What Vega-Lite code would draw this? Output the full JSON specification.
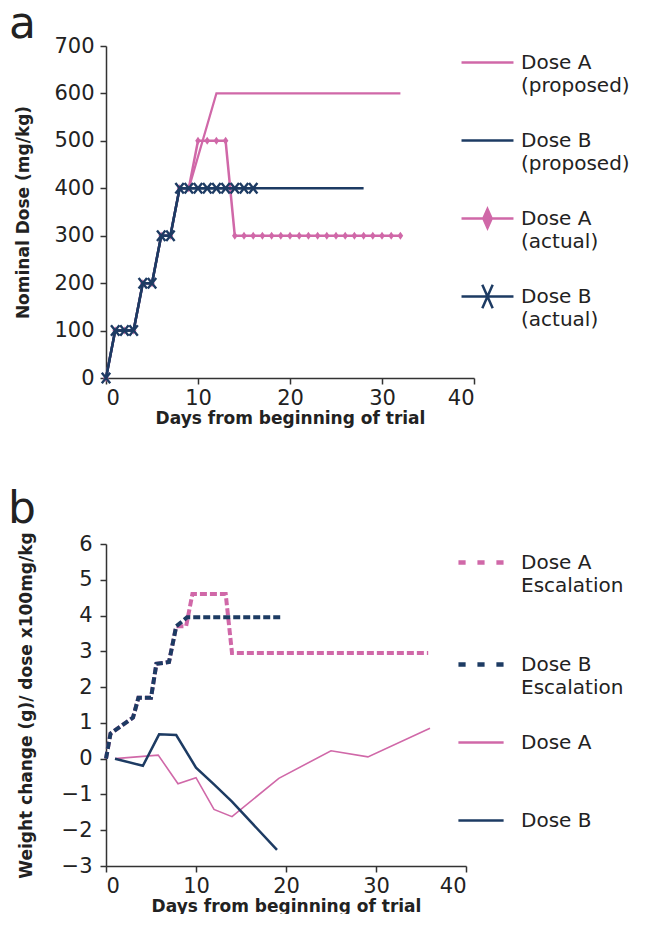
{
  "$schema": "https://vega.github.io/schema/vega-lite/v6.json",
  "background": "white",
  "padding": {"left": 8, "top": 3, "right": 0, "bottom": 0},
  "config": {
    "font": "DejaVu Sans",
    "view": {"stroke": null},
    "axis": {"grid": false, "domainColor": "#333", "domainWidth": 1.5, "tickColor": "#333", "tickWidth": 1.5, "tickSize": 6,
      "labelFont": "DejaVu Sans", "labelFontSize": 21, "labelColor": "#222",
      "titleFont": "DejaVu Sans", "titleFontWeight": "bold", "titleFontSize": 17, "titleColor": "#222"},
    "title": {"font": "DejaVu Sans", "fontSize": 44, "fontWeight": "normal", "color": "#222", "anchor": "start", "frame": "bounds"}
  },
  "datasets": {
    "dose": [
      {"series": "Dose A (proposed)", "day": 0, "value": 0},
      {"series": "Dose A (proposed)", "day": 1, "value": 100},
      {"series": "Dose A (proposed)", "day": 3, "value": 100},
      {"series": "Dose A (proposed)", "day": 4, "value": 200},
      {"series": "Dose A (proposed)", "day": 5, "value": 200},
      {"series": "Dose A (proposed)", "day": 6, "value": 300},
      {"series": "Dose A (proposed)", "day": 7, "value": 300},
      {"series": "Dose A (proposed)", "day": 8, "value": 400},
      {"series": "Dose A (proposed)", "day": 9, "value": 400},
      {"series": "Dose A (proposed)", "day": 12, "value": 600},
      {"series": "Dose A (proposed)", "day": 32, "value": 600},
      {"series": "Dose B (proposed)", "day": 0, "value": 0},
      {"series": "Dose B (proposed)", "day": 1, "value": 100},
      {"series": "Dose B (proposed)", "day": 3, "value": 100},
      {"series": "Dose B (proposed)", "day": 4, "value": 200},
      {"series": "Dose B (proposed)", "day": 5, "value": 200},
      {"series": "Dose B (proposed)", "day": 6, "value": 300},
      {"series": "Dose B (proposed)", "day": 7, "value": 300},
      {"series": "Dose B (proposed)", "day": 8, "value": 400},
      {"series": "Dose B (proposed)", "day": 28, "value": 400},
      {"series": "Dose A (actual)", "day": 0, "value": 0},
      {"series": "Dose A (actual)", "day": 1, "value": 100},
      {"series": "Dose A (actual)", "day": 2, "value": 100},
      {"series": "Dose A (actual)", "day": 3, "value": 100},
      {"series": "Dose A (actual)", "day": 4, "value": 200},
      {"series": "Dose A (actual)", "day": 5, "value": 200},
      {"series": "Dose A (actual)", "day": 6, "value": 300},
      {"series": "Dose A (actual)", "day": 7, "value": 300},
      {"series": "Dose A (actual)", "day": 8, "value": 400},
      {"series": "Dose A (actual)", "day": 9, "value": 400},
      {"series": "Dose A (actual)", "day": 10, "value": 500},
      {"series": "Dose A (actual)", "day": 11, "value": 500},
      {"series": "Dose A (actual)", "day": 12, "value": 500},
      {"series": "Dose A (actual)", "day": 13, "value": 500},
      {"series": "Dose A (actual)", "day": 14, "value": 300},
      {"series": "Dose A (actual)", "day": 15, "value": 300},
      {"series": "Dose A (actual)", "day": 16, "value": 300},
      {"series": "Dose A (actual)", "day": 17, "value": 300},
      {"series": "Dose A (actual)", "day": 18, "value": 300},
      {"series": "Dose A (actual)", "day": 19, "value": 300},
      {"series": "Dose A (actual)", "day": 20, "value": 300},
      {"series": "Dose A (actual)", "day": 21, "value": 300},
      {"series": "Dose A (actual)", "day": 22, "value": 300},
      {"series": "Dose A (actual)", "day": 23, "value": 300},
      {"series": "Dose A (actual)", "day": 24, "value": 300},
      {"series": "Dose A (actual)", "day": 25, "value": 300},
      {"series": "Dose A (actual)", "day": 26, "value": 300},
      {"series": "Dose A (actual)", "day": 27, "value": 300},
      {"series": "Dose A (actual)", "day": 28, "value": 300},
      {"series": "Dose A (actual)", "day": 29, "value": 300},
      {"series": "Dose A (actual)", "day": 30, "value": 300},
      {"series": "Dose A (actual)", "day": 31, "value": 300},
      {"series": "Dose A (actual)", "day": 32, "value": 300},
      {"series": "Dose B (actual)", "day": 0, "value": 0},
      {"series": "Dose B (actual)", "day": 1, "value": 100},
      {"series": "Dose B (actual)", "day": 2, "value": 100},
      {"series": "Dose B (actual)", "day": 3, "value": 100},
      {"series": "Dose B (actual)", "day": 4, "value": 200},
      {"series": "Dose B (actual)", "day": 5, "value": 200},
      {"series": "Dose B (actual)", "day": 6, "value": 300},
      {"series": "Dose B (actual)", "day": 7, "value": 300},
      {"series": "Dose B (actual)", "day": 8, "value": 400},
      {"series": "Dose B (actual)", "day": 9, "value": 400},
      {"series": "Dose B (actual)", "day": 10, "value": 400},
      {"series": "Dose B (actual)", "day": 11, "value": 400},
      {"series": "Dose B (actual)", "day": 12, "value": 400},
      {"series": "Dose B (actual)", "day": 13, "value": 400},
      {"series": "Dose B (actual)", "day": 14, "value": 400},
      {"series": "Dose B (actual)", "day": 15, "value": 400},
      {"series": "Dose B (actual)", "day": 16, "value": 400}
    ],
    "weight": [
      {"series": "Dose A Escalation", "day": 0, "value": 0},
      {"series": "Dose A Escalation", "day": 0.5, "value": 0.7},
      {"series": "Dose A Escalation", "day": 3, "value": 1.15},
      {"series": "Dose A Escalation", "day": 3.6, "value": 1.7},
      {"series": "Dose A Escalation", "day": 5, "value": 1.7},
      {"series": "Dose A Escalation", "day": 5.6, "value": 2.65},
      {"series": "Dose A Escalation", "day": 7, "value": 2.7},
      {"series": "Dose A Escalation", "day": 7.8, "value": 3.7},
      {"series": "Dose A Escalation", "day": 8.9, "value": 3.7},
      {"series": "Dose A Escalation", "day": 9.6, "value": 4.6},
      {"series": "Dose A Escalation", "day": 13.3, "value": 4.6},
      {"series": "Dose A Escalation", "day": 14, "value": 2.95},
      {"series": "Dose A Escalation", "day": 35.8, "value": 2.95},
      {"series": "Dose B Escalation", "day": 0, "value": 0},
      {"series": "Dose B Escalation", "day": 0.5, "value": 0.7},
      {"series": "Dose B Escalation", "day": 3, "value": 1.15},
      {"series": "Dose B Escalation", "day": 3.6, "value": 1.7},
      {"series": "Dose B Escalation", "day": 5, "value": 1.7},
      {"series": "Dose B Escalation", "day": 5.6, "value": 2.65},
      {"series": "Dose B Escalation", "day": 7, "value": 2.7},
      {"series": "Dose B Escalation", "day": 7.8, "value": 3.7},
      {"series": "Dose B Escalation", "day": 9, "value": 3.95},
      {"series": "Dose B Escalation", "day": 19.6, "value": 3.95},
      {"series": "Dose A", "day": 1, "value": 0},
      {"series": "Dose A", "day": 5.8, "value": 0.1},
      {"series": "Dose A", "day": 8, "value": -0.7},
      {"series": "Dose A", "day": 10, "value": -0.53},
      {"series": "Dose A", "day": 12, "value": -1.42},
      {"series": "Dose A", "day": 14, "value": -1.62},
      {"series": "Dose A", "day": 19.2, "value": -0.55},
      {"series": "Dose A", "day": 25, "value": 0.22},
      {"series": "Dose A", "day": 29.1, "value": 0.05},
      {"series": "Dose A", "day": 36, "value": 0.85},
      {"series": "Dose B", "day": 1, "value": 0},
      {"series": "Dose B", "day": 4.1, "value": -0.2},
      {"series": "Dose B", "day": 5.9, "value": 0.68},
      {"series": "Dose B", "day": 7.8, "value": 0.66},
      {"series": "Dose B", "day": 10, "value": -0.25},
      {"series": "Dose B", "day": 12, "value": -0.72},
      {"series": "Dose B", "day": 14, "value": -1.2},
      {"series": "Dose B", "day": 19, "value": -2.55}
    ]
  },
  "spacing": 61,
  "vconcat": [
    {
      "title": {"text": "a", "dx": -6, "offset": -12},
      "width": 368,
      "height": 332,
      "data": {"name": "dose"},
      "encoding": {
        "x": {"field": "day", "type": "quantitative", "scale": {"domain": [0, 40], "nice": false},
          "axis": {"values": [0, 10, 20, 30, 40], "title": "Days from beginning of trial", "labelPadding": 3, "titlePadding": 2}},
        "y": {"field": "value", "type": "quantitative", "scale": {"domain": [0, 700], "nice": false},
          "axis": {"values": [0, 100, 200, 300, 400, 500, 600, 700], "title": "Nominal Dose (mg/kg)", "labelPadding": 6, "titlePadding": 21}}
      },
      "layer": [
        {
          "transform": [{"filter": "datum.series === 'Dose A (proposed)'"}],
          "mark": {"type": "line", "strokeWidth": 2.2},
          "encoding": {
            "color": {
              "field": "series", "type": "nominal",
              "scale": {"domain": ["Dose A (proposed)", "Dose B (proposed)", "Dose A (actual)", "Dose B (actual)", "Dose A Escalation", "Dose B Escalation", "Dose A", "Dose B"],
                "range": ["#d068a8", "#1d3b63", "#d068a8", "#1d3b63", "#d068a8", "#1d3b63", "#d068a8", "#1d3b63"]},
              "legend": {
                "title": null, "orient": "none", "legendX": 354, "legendY": -11, "padding": 0,
                "symbolSize": 2700, "symbolStrokeWidth": 2.5, "labelFontSize": 20, "labelFont": "DejaVu Sans", "labelColor": "#222",
                "labelOffset": 6, "rowPadding": 17, "labelBaseline": "middle", "labelLimit": 300,
                "labelExpr": "datum.label === 'Dose B (actual)' ? ['Dose B', '(actual)', '', '', '', '', '', '', '', ''] : datum.label === 'Dose A Escalation' ? ['Dose A', 'Escalation', ''] : datum.label === 'Dose B Escalation' ? ['Dose B', 'Escalation'] : datum.label === 'Dose A' ? ['Dose A', ''] : datum.label === 'Dose B' ? ['Dose B'] : [substring(datum.label, 0, 6), substring(datum.label, 7)]",
                "encoding": {
                  "symbols": {
                    "shape": {"condition": [
                      {"test": "datum.value === 'Dose A (actual)'", "value": "M-1,0H1M0,-0.36L0.16,0L0,0.36L-0.16,0Z"},
                      {"test": "datum.value === 'Dose B (actual)'", "value": "M-1,0H1M-0.2,-0.45L0.2,0.45M-0.2,0.45L0.2,-0.45"},
                      {"test": "datum.value === 'Dose A Escalation' || datum.value === 'Dose B Escalation'", "value": "M-1.07,-0.04H-0.89V0.04H-1.07Z M-0.34,-0.04H-0.16V0.04H-0.34Z M0.39,-0.04H0.57V0.04H0.39Z"},
                      {"test": "datum.value === 'Dose A' || datum.value === 'Dose B'", "value": "M-1.12,0H0.62"}
                    ], "value": "M-1,0H1"},
                    "fill": {"condition": {"test": "datum.value === 'Dose A (actual)'", "value": "#d068a8"}, "value": "transparent"}
                  },
                  "labels": {"lineHeight": {"value": 23.5}}
                }
              }
            }
          }
        },
        {
          "transform": [{"filter": "datum.series === 'Dose A (actual)'"}],
          "mark": {"type": "line", "strokeWidth": 2.5},
          "encoding": {"color": {"field": "series", "type": "nominal"}}
        },
        {
          "transform": [{"filter": "datum.series === 'Dose A (actual)'"}],
          "mark": {"type": "point", "shape": "M0,-1L0.7,0L0,1L-0.7,0Z", "filled": true, "size": 64, "color": "#d068a8", "opacity": 1}
        },
        {
          "transform": [{"filter": "datum.series === 'Dose B (proposed)'"}],
          "mark": {"type": "line", "strokeWidth": 2.5},
          "encoding": {"color": {"field": "series", "type": "nominal"}}
        },
        {
          "transform": [{"filter": "datum.series === 'Dose B (actual)'"}],
          "mark": {"type": "line", "strokeWidth": 2.5},
          "encoding": {"color": {"field": "series", "type": "nominal"}}
        },
        {
          "transform": [{"filter": "datum.series === 'Dose B (actual)'"}],
          "mark": {"type": "point", "shape": "M-0.8,-1L0.8,1M-0.8,1L0.8,-1", "filled": false, "size": 110, "strokeWidth": 2.4, "color": "#1d3b63", "opacity": 1}
        }
      ]
    },
    {
      "title": {"text": "b", "dx": -9, "offset": 0},
      "width": 360,
      "height": 322,
      "data": {"name": "weight"},
      "encoding": {
        "x": {"field": "day", "type": "quantitative", "scale": {"domain": [0, 40], "nice": false},
          "axis": {"values": [0, 10, 20, 30, 40], "title": "Days from beginning of trial", "labelPadding": 3, "titlePadding": 2}},
        "y": {"field": "value", "type": "quantitative", "scale": {"domain": [-3, 6], "nice": false},
          "axis": {"values": [-3, -2, -1, 0, 1, 2, 3, 4, 5, 6], "title": "Weight change (g)/ dose x100mg/kg", "labelPadding": 8, "titlePadding": 26}}
      },
      "layer": [
        {
          "transform": [{"filter": "datum.series === 'Dose A Escalation'"}],
          "mark": {"type": "line", "strokeWidth": 4, "strokeDash": [7, 3]},
          "encoding": {"color": {"field": "series", "type": "nominal"}}
        },
        {
          "transform": [{"filter": "datum.series === 'Dose B Escalation'"}],
          "mark": {"type": "line", "strokeWidth": 4, "strokeDash": [7, 3]},
          "encoding": {"color": {"field": "series", "type": "nominal"}}
        },
        {
          "transform": [{"filter": "datum.series === 'Dose A'"}],
          "mark": {"type": "line", "strokeWidth": 1.6},
          "encoding": {"color": {"field": "series", "type": "nominal"}}
        },
        {
          "transform": [{"filter": "datum.series === 'Dose B'"}],
          "mark": {"type": "line", "strokeWidth": 2.5},
          "encoding": {"color": {"field": "series", "type": "nominal"}}
        }
      ]
    }
  ]
}
